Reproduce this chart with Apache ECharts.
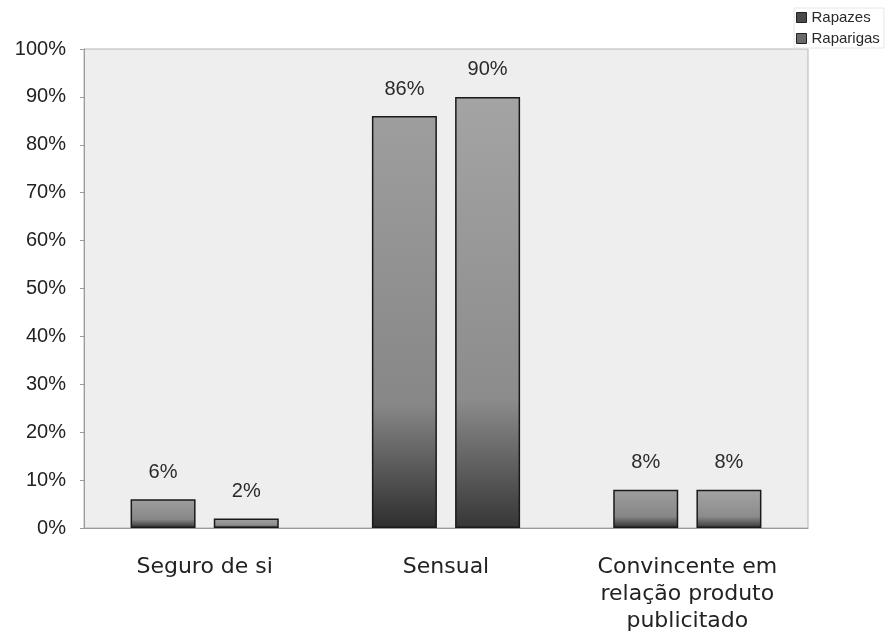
<!DOCTYPE html>
<html>
<head>
<meta charset="utf-8">
<script src="https://cdn.jsdelivr.net/npm/echarts@6/dist/echarts.min.js"></script>
<style>
  html, body { margin: 0; padding: 0; background: #ffffff; }
  #chart { width: 896px; height: 643px; }
</style>
</head>
<body>
<div id="chart"></div>
<script>
// Categories and percentages per group
const categories = ['Seguro de si', 'Sensual', 'Convincente em\nrelação produto\npublicitado'];
const seriesNames = ['Rapazes', 'Raparigas'];
const rapazes = [6, 86, 8];
const raparigas = [2, 90, 8];
const yTicks = [0, 10, 20, 30, 40, 50, 60, 70, 80, 90, 100];

const chart = echarts.init(document.getElementById('chart'));

function barGradient(top, mid, bottom) {
  return new echarts.graphic.LinearGradient(0, 0, 0, 1, [
    { offset: 0, color: top },
    { offset: 0.7, color: mid },
    { offset: 1, color: bottom }
  ]);
}

const labelStyle = {
  show: true,
  position: 'top',
  distance: 17,
  formatter: '{c}%',
  fontFamily: 'Liberation Sans, Arial, sans-serif',
  fontSize: 20,
  color: '#2a2a2a'
};

chart.setOption({
  animation: false,
  backgroundColor: '#ffffff',
  legend: {
    orient: 'vertical',
    left: 794,
    top: 8,
    itemWidth: 10,
    itemHeight: 10,
    itemGap: 6,
    padding: [2, 4, 2, 2],
    borderColor: '#e6e6e6',
    borderWidth: 1,
    textStyle: {
      fontFamily: 'Liberation Sans, Arial, sans-serif',
      fontSize: 15,
      color: '#2a2a2a'
    },
    data: [
      { name: seriesNames[0], icon: 'rect', itemStyle: { color: '#4a4a4a', borderColor: '#222', borderWidth: 1 } },
      { name: seriesNames[1], icon: 'rect', itemStyle: { color: '#6a6a6a', borderColor: '#222', borderWidth: 1 } }
    ]
  },
  grid: {
    left: 84,
    right: 88,
    top: 49,
    bottom: 115,
    show: true,
    backgroundColor: '#eeeeee',
    borderColor: '#b5b5b5',
    borderWidth: 1
  },
  xAxis: {
    type: 'category',
    data: categories,
    axisLine: { lineStyle: { color: '#9a9a9a', width: 1 } },
    axisTick: { show: false },
    axisLabel: {
      interval: 0,
      margin: 26,
      lineHeight: 27,
      fontFamily: 'DejaVu Sans, sans-serif',
      fontSize: 22,
      color: '#222222'
    }
  },
  yAxis: {
    type: 'value',
    min: yTicks[0],
    max: yTicks[yTicks.length - 1],
    interval: 10,
    axisLine: { show: true, lineStyle: { color: '#9a9a9a' } },
    axisTick: { show: true, length: 4, lineStyle: { color: '#9a9a9a' } },
    splitLine: { show: false },
    axisLabel: {
      formatter: '{value}%',
      margin: 18,
      fontFamily: 'Liberation Sans, Arial, sans-serif',
      fontSize: 20,
      color: '#222222'
    }
  },
  series: [
    {
      name: seriesNames[0],
      type: 'bar',
      data: rapazes,
      barWidth: 65,
      barGap: '28%',
      itemStyle: {
        color: barGradient('#9e9e9e', '#878787', '#2e2e2e'),
        borderColor: '#1a1a1a',
        borderWidth: 1.5
      },
      label: labelStyle
    },
    {
      name: seriesNames[1],
      type: 'bar',
      data: raparigas,
      barWidth: 65,
      itemStyle: {
        color: barGradient('#a4a4a4', '#8c8c8c', '#363636'),
        borderColor: '#1a1a1a',
        borderWidth: 1.5
      },
      label: labelStyle
    }
  ]
});
</script>
</body>
</html>
